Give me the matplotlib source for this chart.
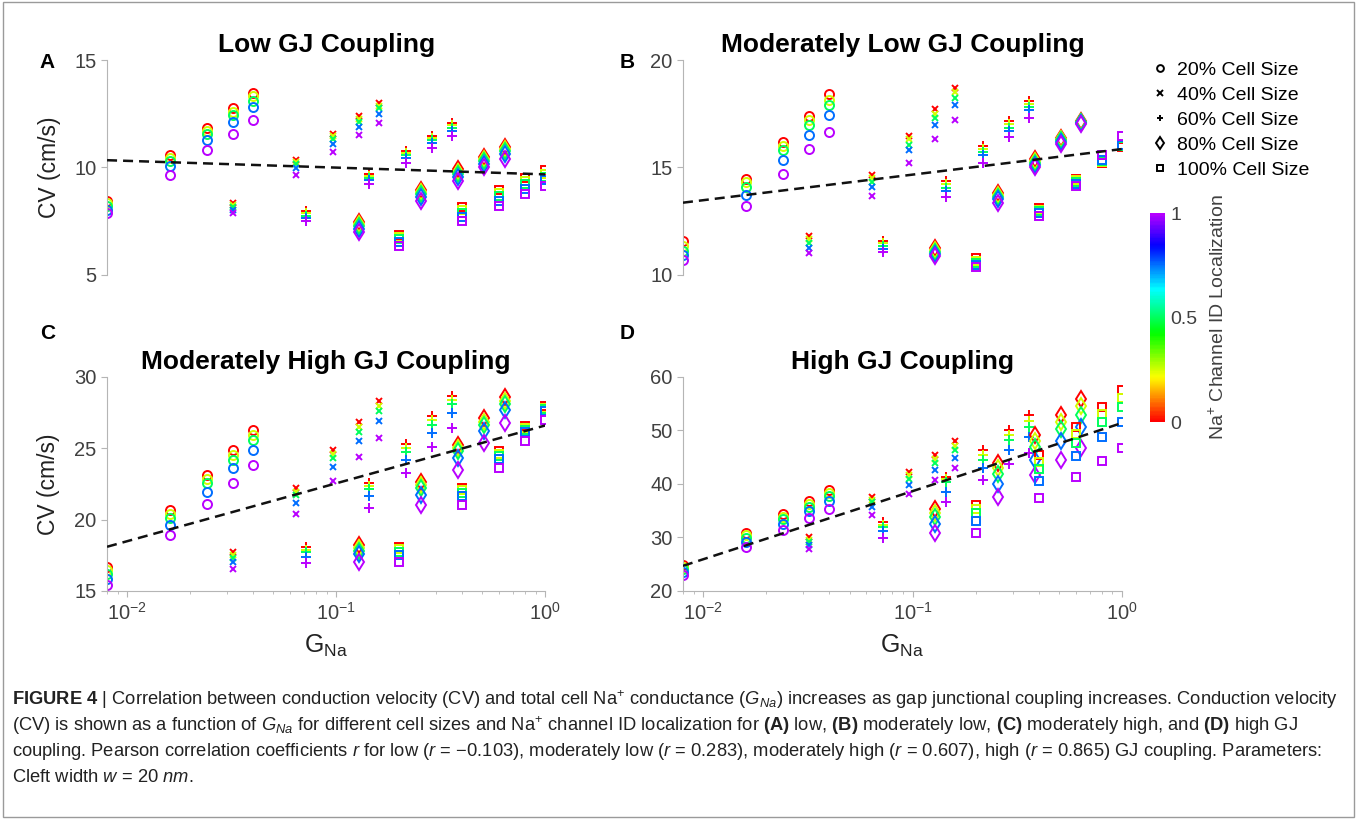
import matplotlib
matplotlib.use("Agg")
import matplotlib.pyplot as plt
import numpy as np
from matplotlib.colors import LinearSegmentedColormap, Normalize
from matplotlib.cm import ScalarMappable
from matplotlib.lines import Line2D
from matplotlib.patches import Rectangle

plt.rcParams["font.family"] = ["Liberation Sans", "DejaVu Sans"]
plt.rcParams["mathtext.fontset"] = "custom"
plt.rcParams["mathtext.rm"] = "Liberation Sans"
plt.rcParams["mathtext.it"] = "Liberation Sans:italic"
plt.rcParams["mathtext.bf"] = "Liberation Sans:bold"

# ---- data -------------------------------------------------------------
size_labels = ["20% Cell Size", "40% Cell Size", "60% Cell Size", "80% Cell Size", "100% Cell Size"]
id_levels = [0.0, 0.25, 0.5, 0.75, 1.0]

gna_20 = [0.008, 0.016, 0.024, 0.032, 0.04]
gna_40 = [0.032, 0.064, 0.096, 0.128, 0.16]
gna_60 = [0.072, 0.144, 0.216, 0.288, 0.36]
gna_80 = [0.128, 0.256, 0.384, 0.512, 0.64]
gna_100 = [0.2, 0.4, 0.6, 0.8, 1.0]
gna_by_size = [gna_20, gna_40, gna_60, gna_80, gna_100]

# cv[size][density][id level]
cv_low = [
    [[8.45, 8.35, 8.2, 8.0, 7.85], [10.55, 10.45, 10.3, 10.05, 9.65], [11.85, 11.7, 11.55, 11.25, 10.8],
     [12.75, 12.6, 12.45, 12.1, 11.55], [13.45, 13.3, 13.1, 12.8, 12.2]],
    [[8.35, 8.25, 8.15, 8.0, 7.85], [10.35, 10.25, 10.15, 9.95, 9.65], [11.55, 11.45, 11.3, 11.1, 10.7],
     [12.4, 12.25, 12.1, 11.9, 11.5], [13.0, 12.85, 12.75, 12.5, 12.05]],
    [[7.95, 7.85, 7.75, 7.65, 7.5], [9.7, 9.6, 9.5, 9.4, 9.2], [10.75, 10.65, 10.55, 10.45, 10.2],
     [11.45, 11.35, 11.25, 11.15, 10.9], [12.05, 11.95, 11.85, 11.7, 11.45]],
    [[7.45, 7.35, 7.25, 7.1, 7.0], [8.95, 8.85, 8.75, 8.6, 8.45], [9.9, 9.8, 9.7, 9.55, 9.35],
     [10.5, 10.4, 10.3, 10.15, 10.0], [10.95, 10.85, 10.75, 10.6, 10.4]],
    [[6.85, 6.75, 6.65, 6.5, 6.35], [8.15, 8.0, 7.85, 7.7, 7.5], [8.95, 8.8, 8.65, 8.45, 8.2],
     [9.5, 9.35, 9.2, 9.0, 8.75], [9.85, 9.7, 9.55, 9.4, 9.15]],
]
cv_mod_low = [
    [[11.55, 11.35, 11.1, 10.9, 10.7], [14.45, 14.3, 14.1, 13.7, 13.2], [16.2, 16.0, 15.8, 15.35, 14.7],
     [17.4, 17.2, 16.95, 16.5, 15.85], [18.4, 18.15, 17.9, 17.45, 16.65]],
    [[11.8, 11.65, 11.45, 11.25, 11.0], [14.65, 14.5, 14.3, 14.1, 13.65], [16.45, 16.3, 16.05, 15.8, 15.2],
     [17.7, 17.5, 17.3, 16.95, 16.3], [18.7, 18.5, 18.25, 17.9, 17.2]],
    [[11.55, 11.45, 11.35, 11.2, 11.05], [14.35, 14.2, 14.05, 13.9, 13.6], [16.0, 15.85, 15.7, 15.55, 15.2],
     [17.15, 17.0, 16.85, 16.7, 16.4], [18.1, 17.95, 17.8, 17.65, 17.3]],
    [[11.25, 11.15, 11.05, 10.95, 10.85], [13.8, 13.7, 13.6, 13.5, 13.35], [15.4, 15.3, 15.2, 15.1, 15.0],
     [16.35, 16.3, 16.25, 16.2, 16.1], [17.15, 17.12, 17.1, 17.07, 17.03]],
    [[10.75, 10.65, 10.55, 10.45, 10.35], [13.1, 13.0, 12.95, 12.85, 12.75], [14.45, 14.4, 14.3, 14.2, 14.15],
     [15.2, 15.25, 15.3, 15.35, 15.55], [15.95, 15.97, 16.0, 16.05, 16.45]],
]
cv_mod_high = [
    [[16.7, 16.5, 16.2, 15.85, 15.45], [20.65, 20.4, 20.15, 19.6, 18.9], [23.1, 22.85, 22.55, 21.95, 21.1],
     [24.85, 24.55, 24.2, 23.6, 22.6], [26.25, 25.95, 25.55, 24.85, 23.8]],
    [[17.75, 17.55, 17.3, 17.05, 16.55], [22.2, 21.95, 21.7, 21.2, 20.4], [24.85, 24.6, 24.3, 23.7, 22.7],
     [26.85, 26.5, 26.15, 25.5, 24.4], [28.35, 28.0, 27.6, 26.9, 25.75]],
    [[18.1, 17.9, 17.7, 17.4, 16.95], [22.6, 22.35, 22.15, 21.65, 20.85], [25.3, 25.0, 24.75, 24.15, 23.3],
     [27.25, 26.95, 26.6, 26.05, 25.1], [28.7, 28.4, 28.1, 27.5, 26.45]],
    [[18.2, 18.0, 17.8, 17.6, 17.0], [22.65, 22.4, 22.2, 21.75, 21.0], [25.2, 25.0, 24.8, 24.35, 23.5],
     [27.1, 26.85, 26.6, 26.2, 25.35], [28.6, 28.35, 28.1, 27.7, 26.8]],
    [[18.1, 17.95, 17.75, 17.5, 17.0], [22.25, 22.05, 21.9, 21.65, 21.0], [24.8, 24.6, 24.45, 24.25, 23.6],
     [26.55, 26.45, 26.3, 26.15, 25.5], [27.95, 27.85, 27.75, 27.6, 27.0]],
]
cv_high = [
    [[24.95, 24.55, 24.1, 23.6, 23.0], [30.9, 30.4, 29.95, 29.2, 28.25], [34.35, 33.9, 33.45, 32.5, 31.4],
     [36.8, 36.25, 35.75, 35.0, 33.55], [38.85, 38.3, 37.8, 36.85, 35.3]],
    [[30.15, 29.6, 29.1, 28.6, 27.8], [37.6, 37.1, 36.65, 35.75, 34.2], [42.15, 41.6, 41.0, 39.8, 38.2],
     [45.5, 44.7, 44.0, 42.7, 40.7], [48.0, 47.1, 46.3, 44.95, 42.9]],
    [[32.95, 32.4, 31.9, 31.25, 29.95], [41.35, 40.85, 40.3, 38.55, 36.65], [46.3, 45.4, 44.55, 42.9, 40.7],
     [50.05, 49.1, 48.2, 46.3, 43.7], [52.85, 51.8, 50.65, 48.8, 45.8]],
    [[35.25, 34.55, 33.85, 32.5, 30.75], [43.95, 42.95, 41.95, 40.0, 37.5], [49.1, 48.0, 46.95, 44.55, 41.65],
     [52.85, 51.6, 50.35, 48.0, 44.45], [55.95, 54.5, 52.95, 50.65, 46.8]],
    [[36.15, 35.3, 34.5, 33.05, 30.9], [45.4, 44.1, 42.75, 40.6, 37.4], [50.65, 49.4, 47.75, 45.25, 41.35],
     [54.4, 53.15, 51.5, 48.8, 44.25], [57.65, 56.15, 54.3, 51.5, 46.65]],
]

# regression line ends at G_Na = 0.008 and 1
trend_x = [0.008, 1.0]
trend_low = [10.33, 9.67]
trend_mod_low = [13.35, 15.85]
trend_mod_high = [18.1, 26.6]
trend_high = [24.7, 51.4]

caption_lines = [
    r"$\mathbf{FIGURE\ 4}$ | Correlation between conduction velocity (CV) and total cell Na$^{+}$ conductance ($G_{Na}$) "
    r"increases as gap junctional coupling increases. Conduction velocity",
    r"(CV) is shown as a function of $G_{Na}$ for different cell sizes and Na$^{+}$ channel ID localization for "
    r"$\mathbf{(A)}$ low, $\mathbf{(B)}$ moderately low, $\mathbf{(C)}$ moderately high, and $\mathbf{(D)}$ high GJ",
    r"coupling. Pearson correlation coefficients $r$ for low ($r$ = −0.103), moderately low ($r$ = 0.283), "
    r"moderately high ($r$ = 0.607), high ($r$ = 0.865) GJ coupling. Parameters:",
    r"Cleft width $w$ = 20 $nm$.",
]

# ---- style ------------------------------------------------------------
MARKERS = ["o", "x", "+", "d", "s"]
MSIZES = [6.5, 5, 6.5, 8, 5.5]
AXIS_GRAY = "#b5b5b5"
TEXT_GRAY = "#404040"
cmap = LinearSegmentedColormap.from_list("id_rainbow", plt.cm.hsv(np.linspace(0, 0.8, 256)))
norm = Normalize(0, 1)

panels = [
    ("A", "Low GJ Coupling", cv_low, trend_low, (5, 15), [5, 10, 15]),
    ("B", "Moderately Low GJ Coupling", cv_mod_low, trend_mod_low, (10, 20), [10, 15, 20]),
    ("C", "Moderately High GJ Coupling", cv_mod_high, trend_mod_high, (15, 30), [15, 20, 25, 30]),
    ("D", "High GJ Coupling", cv_high, trend_high, (20, 60), [20, 30, 40, 50, 60]),
]
positions = [
    [0.0789, 0.6648, 0.3228, 0.2619],
    [0.5033, 0.6648, 0.3235, 0.2619],
    [0.0789, 0.2784, 0.3228, 0.2613],
    [0.5033, 0.2784, 0.3235, 0.2613],
]
letter_pos = [(0.035, 0.924), (0.462, 0.924), (0.035, 0.593), (0.462, 0.593)]

fig = plt.figure(figsize=(13.57, 8.19), dpi=100)

for i, (letter, title, cv, trend, ylim, yticks) in enumerate(panels):
    ax = fig.add_axes(positions[i])
    for s, gna in enumerate(gna_by_size):
        block = np.array(cv[s])
        for k, level in enumerate(id_levels):
            ax.plot(gna, block[:, k], linestyle="none", marker=MARKERS[s], ms=MSIZES[s],
                    mfc="none", mec=cmap(norm(level)), mew=1.4, zorder=2)
    ax.plot(trend_x, trend, color="#111111", lw=1.8, linestyle=(0, (4, 2.4)), zorder=3)

    ax.set_xscale("log")
    ax.set_xlim(0.008, 1.0)
    ax.set_ylim(*ylim)
    ax.set_yticks(yticks)
    ax.set_title(title, fontsize=19, fontweight="bold", pad=6)
    fig.text(*letter_pos[i], letter, fontsize=15, fontweight="bold", ha="center", va="center")

    for side in ["top", "right"]:
        ax.spines[side].set_visible(False)
    ax.spines["left"].set_color(AXIS_GRAY)
    ax.spines["bottom"].set_color(AXIS_GRAY)
    ax.tick_params(axis="both", which="both", colors=AXIS_GRAY, labelcolor=TEXT_GRAY,
                   labelsize=14.5, direction="out")
    ax.tick_params(axis="y", length=4)
    ax.tick_params(axis="x", which="major", length=4, pad=4)
    ax.tick_params(axis="x", which="minor", length=2.5)

    if i < 2:
        ax.spines["bottom"].set_visible(False)
        ax.tick_params(axis="x", which="both", bottom=False, labelbottom=False)
    else:
        ax.set_xticks([0.01, 0.1, 1.0])
        ax.set_xlabel(r"G$_{\mathrm{Na}}$", fontsize=18, color="#222222", labelpad=6)
    if i % 2 == 0:
        ax.set_ylabel("CV (cm/s)", fontsize=16.5, color="#222222", labelpad=10)

# legend for cell size
handles = [Line2D([], [], linestyle="none", marker=m, ms=ms * 0.75, mfc="none", mec="black", mew=1.4)
           for m, ms in zip(MARKERS, MSIZES)]
fig.legend(handles, size_labels, loc="upper left", bbox_to_anchor=(0.843, 0.935), frameon=False,
           fontsize=14, handlelength=0.8, handletextpad=0.5, labelspacing=0.38, borderaxespad=0)

# colorbar for ID localization
cax = fig.add_axes([0.8475, 0.4847, 0.011, 0.255])
cb = fig.colorbar(ScalarMappable(norm=norm, cmap=cmap), cax=cax, ticks=[0, 0.5, 1])
cb.ax.set_yticklabels(["0", "0.5", "1"])
cb.outline.set_visible(False)
cb.ax.tick_params(length=0, labelsize=14, labelcolor=TEXT_GRAY, pad=4)
cb.set_label(r"Na$^{+}$ Channel ID Localization", fontsize=14, color=TEXT_GRAY, labelpad=8)

# caption
caption_y = [700, 726, 752, 777]
for line, y in zip(caption_lines, caption_y):
    fig.text(12 / 1357, 1 - y / 819, line, fontsize=13.2, color="#222222", ha="left", va="center")

fig.patches.append(Rectangle((0.002, 0.002), 0.996, 0.996, transform=fig.transFigure,
                             fill=False, edgecolor="#9a9a9a", lw=1))

fig.savefig("out.png", dpi=100)
